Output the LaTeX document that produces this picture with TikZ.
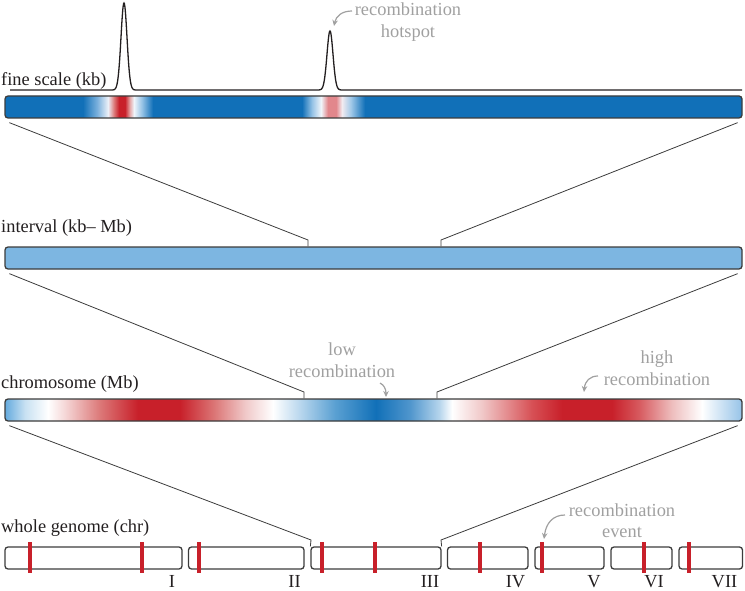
\documentclass[tikz,border=0pt]{standalone}
\usepackage{fontspec}
\setmainfont{Liberation Serif}
\usetikzlibrary{arrows.meta}
\definecolor{cB}{RGB}{17,112,184}
\definecolor{cR}{RGB}{200,32,42}
\definecolor{cW}{RGB}{255,255,255}
\definecolor{f1}{RGB}{120,175,220}
\definecolor{f2}{RGB}{235,240,248}
\definecolor{f3}{RGB}{220,120,120}
\definecolor{f4}{RGB}{230,170,170}
\definecolor{f5}{RGB}{240,245,250}
\definecolor{f6}{RGB}{150,195,230}
\definecolor{f7}{RGB}{226,135,140}
\definecolor{f8}{RGB}{242,235,240}
\definecolor{f9}{RGB}{160,200,232}
\definecolor{ch1}{RGB}{100,170,222}
\definecolor{ch2}{RGB}{200,225,242}
\definecolor{ch4}{RGB}{245,215,215}
\definecolor{ch5}{RGB}{220,120,120}
\definecolor{ch9}{RGB}{240,200,200}
\definecolor{ch11}{RGB}{185,215,238}
\definecolor{ch12}{RGB}{90,160,210}
\definecolor{ch14}{RGB}{80,150,205}
\definecolor{ch15}{RGB}{180,212,236}
\definecolor{ch18}{RGB}{215,80,85}
\definecolor{ch21}{RGB}{215,90,95}
\definecolor{ch22}{RGB}{238,190,190}
\definecolor{ch24}{RGB}{150,195,232}
\definecolor{intcol}{RGB}{125,182,225}
\definecolor{lblcol}{RGB}{35,31,32}
\definecolor{graycol}{RGB}{160,160,160}
\definecolor{linecol}{RGB}{60,60,60}
\pgfdeclarehorizontalshading{fineshade}{100bp}{color(0bp)=(cB); color(30.29bp)=(cB); color(31.24bp)=(f1); color(31.99bp)=(f2); color(32.40bp)=(f3); color(32.73bp)=(cR); color(33.14bp)=(cR); color(33.48bp)=(f4); color(33.75bp)=(f5); color(34.29bp)=(f6); color(35.04bp)=(cB); color(45.15bp)=(cB); color(45.83bp)=(f6); color(46.44bp)=(f5); color(46.91bp)=(f7); color(47.46bp)=(f7); color(47.86bp)=(f8); color(48.47bp)=(f9); color(49.42bp)=(cB); color(100bp)=(cB)}
\pgfdeclarehorizontalshading{chromshade}{100bp}{color(0bp)=(ch1); color(25bp)=(ch1); color(26.36bp)=(ch2); color(27.92bp)=(cW); color(29.07bp)=(ch4); color(31.45bp)=(ch5); color(34.02bp)=(cR); color(36.87bp)=(cR); color(39.25bp)=(ch5); color(41.28bp)=(ch9); color(43.18bp)=(cW); color(45.01bp)=(ch11); color(47.39bp)=(ch12); color(50.17bp)=(cB); color(52.48bp)=(ch14); color(54.44bp)=(ch15); color(55.33bp)=(cW); color(57.36bp)=(ch9); color(60.75bp)=(ch18); color(62.79bp)=(cR); color(66.18bp)=(cR); color(68.01bp)=(ch21); color(70.25bp)=(ch22); color(72.29bp)=(cW); color(75bp)=(ch24); color(100bp)=(ch24)}
\tikzset{
  lbl/.style={font=\fontsize{18.4}{22}\selectfont, inner sep=0pt, text=lblcol},
  glbl/.style={lbl, text=graycol},
  bar/.style={draw=linecol, line width=1.3pt, rounded corners=3pt, inner sep=0pt, minimum height=22pt},
  chrbox/.style={bar, fill=white},
  zoomline/.style={draw=linecol, line width=0.8pt},
  redmark/.style={draw=cR, line width=4pt},
  garr/.style={draw=graycol, line width=1.2pt, -{Stealth[length=6pt,width=5.5pt]}},
  peak/.style={draw=lblcol, line width=1.3pt}
}
\begin{document}
\begin{tikzpicture}[x=1pt,y=-1pt]
\useasboundingbox (0,0) rectangle (745,591);
% fine scale
\draw[peak] (10,90) -- (112,90)
  -- plot[domain=112:136, samples=61, smooth] (\x,{90-87*exp(-((\x-124)^2)/18)})
  -- (318,90)
  -- plot[domain=318:342, samples=61, smooth] (\x,{90-59*exp(-((\x-330)^2)/18)})
  -- (742,90);
\node[bar, shade, shading=fineshade, minimum width=737pt] (fine) at (373.5,107) {};
\node[lbl, anchor=base west] (lfine) at (1,86) {fine scale (kb)};
\node[glbl, anchor=base] (hs1) at (408,16) {recombination};
\node[glbl, anchor=base] (hs2) at (408,38) {hotspot};
\coordinate (hsT) at (352,11);
\coordinate (hsH) at (334,26);
\draw[garr] (hsT) .. controls (342,11) and (336,16) .. (hsH);
% interval
\node[bar, fill=intcol, minimum width=737pt] (interval) at (373.5,258) {};
\node[lbl, anchor=base west] (lint) at (1,233) {interval (kb– Mb)};
\coordinate (f2iL) at (308,240);
\coordinate (f2iR) at (441,240);
\draw[zoomline] ([xshift=5pt,yshift=-4pt]fine.south west) -- (f2iL) -- (f2iL |- interval.north);
\draw[zoomline] ([xshift=-5pt,yshift=-4pt]fine.south east) -- (f2iR) -- (f2iR |- interval.north);
% chromosome
\node[bar, shade, shading=chromshade, minimum width=737pt] (chrom) at (373.5,410) {};
\node[lbl, anchor=base west] (lchr) at (1,388) {chromosome (Mb)};
\coordinate (i2cL) at (304,392);
\coordinate (i2cR) at (437,392);
\draw[zoomline] ([xshift=5pt,yshift=-4pt]interval.south west) -- (i2cL) -- (i2cL |- chrom.north);
\draw[zoomline] ([xshift=-5pt,yshift=-4pt]interval.south east) -- (i2cR) -- (i2cR |- chrom.north);
\node[glbl, anchor=base] (lo1) at (342,355) {low};
\node[glbl, anchor=base] (lo2) at (342,377) {recombination};
\coordinate (loT) at (380,383);
\coordinate (loH) at (386,397);
\draw[garr] (loT) .. controls (384,385) and (386,389) .. (loH);
\node[glbl, anchor=base] (hi1) at (657,363) {high};
\node[glbl, anchor=base] (hi2) at (657,385) {recombination};
\coordinate (hiT) at (598,376);
\coordinate (hiH) at (584,392);
\draw[garr] (hiT) .. controls (590,376) and (585,381) .. (hiH);
% whole genome
\node[lbl, anchor=base west] (lgen) at (1,532) {whole genome (chr)};
\node[chrbox, minimum width=177pt] (c1) at (93.5,558) {};
\node[chrbox, minimum width=115.5pt] (c2) at (246.25,558) {};
\node[chrbox, minimum width=130pt] (c3) at (376,558) {};
\node[chrbox, minimum width=80.5pt] (c4) at (487.75,558) {};
\node[chrbox, minimum width=69pt] (c5) at (569.5,558) {};
\node[chrbox, minimum width=61pt] (c6) at (641.5,558) {};
\node[chrbox, minimum width=63.5pt] (c7) at (710.75,558) {};
\coordinate (c2gL) at (311,540);
\coordinate (c2gR) at (441,540);
\draw[zoomline] ([xshift=5pt,yshift=-4pt]chrom.south west) -- (c2gL) -- (c3.north west);
\draw[zoomline] ([xshift=-5pt,yshift=-4pt]chrom.south east) -- (c2gR) -- (c3.north east);
\foreach \xx in {30,142,199,322,375,480,541.5,643.5,689}{
  \draw[redmark] (\xx,542) -- (\xx,573);
}
\node[lbl, anchor=base] (n1) at (172,587) {I};
\node[lbl, anchor=base] (n2) at (294.5,587) {II};
\node[lbl, anchor=base] (n3) at (430,587) {III};
\node[lbl, anchor=base] (n4) at (515.5,587) {IV};
\node[lbl, anchor=base] (n5) at (594,587) {V};
\node[lbl, anchor=base] (n6) at (654,587) {VI};
\node[lbl, anchor=base] (n7) at (724.5,587) {VII};
\node[glbl, anchor=base] (ev1) at (622,516) {recombination};
\node[glbl, anchor=base] (ev2) at (622,537) {event};
\coordinate (evT) at (565,515);
\coordinate (evH) at (544,539);
\draw[garr] (evT) .. controls (553,515) and (546,523) .. (evH);
\end{tikzpicture}
\end{document}
